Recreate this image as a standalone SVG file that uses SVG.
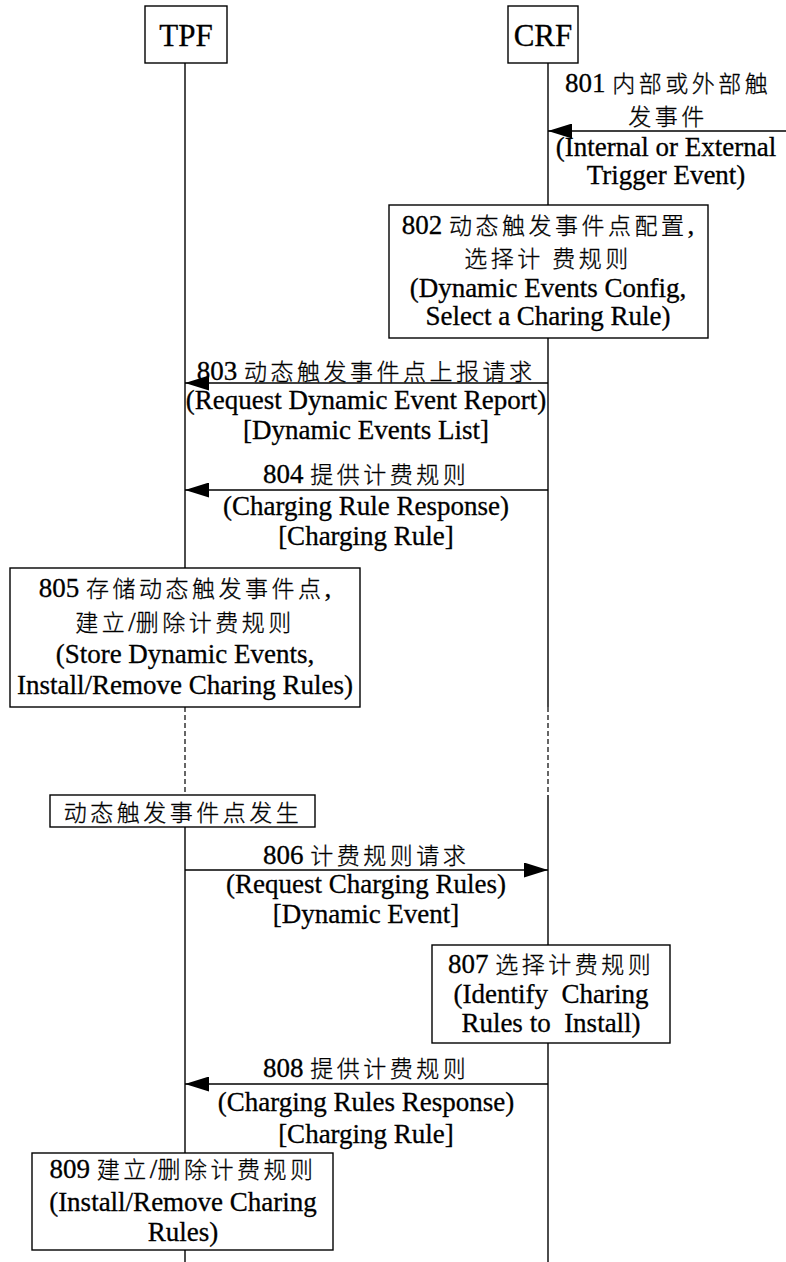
<svg xmlns="http://www.w3.org/2000/svg" width="786" height="1262" viewBox="0 0 786 1262">
<style>
.box{fill:#fff;stroke:#000;stroke-width:1.4}
.life{stroke:#000;stroke-width:1.4;fill:none}
.dash{stroke:#000;stroke-width:1.2;stroke-dasharray:5 3;fill:none}
.msg{stroke:#000;stroke-width:1.4;fill:none;marker-end:url(#ah)}
.t{font-family:"Liberation Serif","Noto Sans CJK SC",serif;font-size:27px;text-anchor:middle;fill:#000;stroke:#000;stroke-width:0.3}
.h{font-size:31px}
.c{font-family:"Noto Sans CJK SC",sans-serif;font-size:23px;font-weight:300;letter-spacing:3.5px}
</style>
<defs>
<marker id="ah" markerUnits="userSpaceOnUse" markerWidth="24" markerHeight="15" refX="24" refY="7.5" orient="auto">
<path d="M0,0 L24,7.5 L0,15 z" fill="#000"/>
</marker>
</defs>
<rect width="786" height="1262" fill="#fff"/>

<g id="connectors">
<line class="life" x1="185" y1="63" x2="185" y2="707"/>
<line class="dash" x1="185" y1="707" x2="185" y2="795"/>
<line class="life" x1="185" y1="795" x2="185" y2="1262"/>
<line class="life" x1="548" y1="63" x2="548" y2="707"/>
<line class="dash" x1="548" y1="707" x2="548" y2="795"/>
<line class="life" x1="548" y1="795" x2="548" y2="1262"/>

<line class="msg" x1="786" y1="131" x2="548" y2="131"/>
<line class="msg" x1="548" y1="383" x2="185" y2="383"/>
<line class="msg" x1="548" y1="490" x2="185" y2="490"/>
<line class="msg" x1="185" y1="870" x2="548" y2="870"/>
<line class="msg" x1="548" y1="1084" x2="185" y2="1084"/>

<g id="label801">
<text class="t" x="668" y="92">801 <tspan class="c">内部或外部触</tspan></text>
<text class="t" x="668" y="125"><tspan class="c">发事件</tspan></text>
<text class="t" x="666" y="156">(Internal or External</text>
<text class="t" x="666" y="184">Trigger Event)</text>
</g>
<g id="label803">
<text class="t" x="366" y="380">803 <tspan class="c">动态触发事件点上报请求</tspan></text>
<text class="t" x="366" y="409">(Request Dynamic Event Report)</text>
<text class="t" x="366" y="439">[Dynamic Events List]</text>
</g>
<g id="label804">
<text class="t" x="366" y="483">804 <tspan class="c">提供计费规则</tspan></text>
<text class="t" x="366" y="515">(Charging Rule Response)</text>
<text class="t" x="366" y="545">[Charging Rule]</text>
</g>
<g id="label806">
<text class="t" x="366" y="864">806 <tspan class="c">计费规则请求</tspan></text>
<text class="t" x="366" y="893">(Request Charging Rules)</text>
<text class="t" x="366" y="923">[Dynamic Event]</text>
</g>
<g id="label808">
<text class="t" x="366" y="1077">808 <tspan class="c">提供计费规则</tspan></text>
<text class="t" x="366" y="1111">(Charging Rules Response)</text>
<text class="t" x="366" y="1143">[Charging Rule]</text>
</g>
</g>

<g id="tpf">
<rect class="box" x="145" y="6" width="82" height="57"/>
<text class="t h" x="186" y="46">TPF</text>
</g>
<g id="crf">
<rect class="box" x="508" y="6" width="70" height="57"/>
<text class="t h" x="543" y="46">CRF</text>
</g>

<g id="step802">
<rect class="box" x="389" y="205" width="319" height="133"/>
<text class="t" x="548" y="234">802 <tspan class="c">动态触发事件点配置</tspan>,</text>
<text class="t" x="548" y="267"><tspan class="c">选择计 费规则</tspan></text>
<text class="t" x="548" y="297">(Dynamic Events Config,</text>
<text class="t" x="548" y="325">Select a Charing Rule)</text>
</g>

<g id="step805">
<rect class="box" x="10" y="568" width="350" height="139"/>
<text class="t" x="185" y="597">805 <tspan class="c">存储动态触发事件点</tspan>,</text>
<text class="t" x="185" y="631"><tspan class="c">建立</tspan>/<tspan class="c">删除计费规则</tspan></text>
<text class="t" x="185" y="663">(Store Dynamic Events,</text>
<text class="t" x="185" y="694">Install/Remove Charing Rules)</text>
</g>

<g id="event">
<rect class="box" x="50" y="795" width="265" height="32"/>
<text class="t" x="183" y="821"><tspan class="c">动态触发事件点发生</tspan></text>
</g>

<g id="step807">
<rect class="box" x="432" y="945" width="238" height="98"/>
<text class="t" x="551" y="973">807 <tspan class="c">选择计费规则</tspan></text>
<text class="t" x="551" y="1003" xml:space="preserve">(Identify  Charing</text>
<text class="t" x="551" y="1032" xml:space="preserve">Rules to  Install)</text>
</g>

<g id="step809">
<rect class="box" x="32" y="1153" width="301" height="97"/>
<text class="t" x="183" y="1178">809 <tspan class="c">建立</tspan>/<tspan class="c">删除计费规则</tspan></text>
<text class="t" x="183" y="1211">(Install/Remove Charing</text>
<text class="t" x="183" y="1241">Rules)</text>
</g>
</svg>
